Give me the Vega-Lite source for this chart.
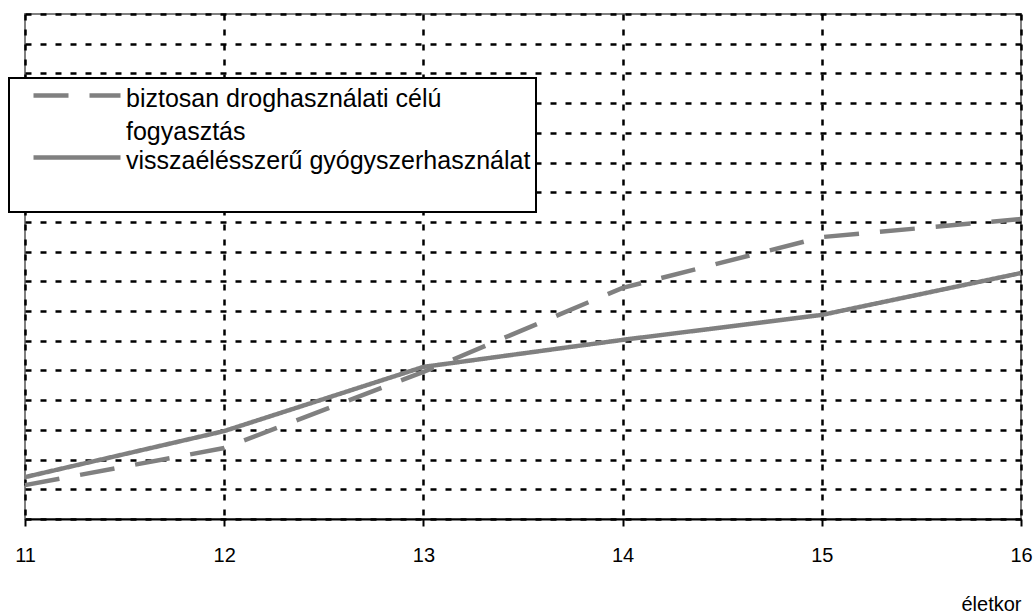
{
  "$schema": "https://vega.github.io/schema/vega-lite/v6.json",
  "width": 996,
  "height": 505,
  "autosize": {"type": "none"},
  "padding": {"left": 25, "top": 14, "right": 14, "bottom": 97},
  "background": "white",
  "config": {
    "view": {"stroke": "#808080", "strokeWidth": 2},
    "font": "Liberation Sans"
  },
  "data": {
    "values": [
      {"age": 11, "value": 1.14, "series": "biztosan droghasználati célú fogyasztás"},
      {"age": 12, "value": 2.39, "series": "biztosan droghasználati célú fogyasztás"},
      {"age": 13, "value": 4.95, "series": "biztosan droghasználati célú fogyasztás"},
      {"age": 14, "value": 7.78, "series": "biztosan droghasználati célú fogyasztás"},
      {"age": 15, "value": 9.49, "series": "biztosan droghasználati célú fogyasztás"},
      {"age": 16, "value": 10.1, "series": "biztosan droghasználati célú fogyasztás"},
      {"age": 11, "value": 1.41, "series": "visszaélésszerű gyógyszerhasználat"},
      {"age": 12, "value": 2.96, "series": "visszaélésszerű gyógyszerhasználat"},
      {"age": 13, "value": 5.12, "series": "visszaélésszerű gyógyszerhasználat"},
      {"age": 14, "value": 6.03, "series": "visszaélésszerű gyógyszerhasználat"},
      {"age": 15, "value": 6.87, "series": "visszaélésszerű gyógyszerhasználat"},
      {"age": 16, "value": 8.28, "series": "visszaélésszerű gyógyszerhasználat"}
    ]
  },
  "mark": {"type": "line", "color": "#808080", "strokeWidth": 4.5, "strokeCap": "butt"},
  "encoding": {
    "x": {
      "field": "age", "type": "quantitative",
      "scale": {"domain": [11, 16], "nice": false, "zero": false},
      "axis": {
        "values": [11, 12, 13, 14, 15, 16],
        "format": "d",
        "title": "életkor",
        "titleAnchor": "end", "titleAlign": "right", "titleBaseline": "alphabetic",
        "titleY": 91, "titleFontSize": 20, "titleFontWeight": "normal", "titleColor": "black",
        "labelFontSize": 20, "labelColor": "black", "labelPadding": 19,
        "labelFlush": false, "labelOverlap": false,
        "tickSize": 7, "tickColor": "black", "tickWidth": 2,
        "domainColor": "black", "domainWidth": 2,
        "grid": true, "gridColor": "black", "gridDash": [6, 9], "gridWidth": 2.5, "gridOpacity": 1
      }
    },
    "y": {
      "field": "value", "type": "quantitative",
      "scale": {"domain": [0, 17], "nice": false},
      "axis": {
        "values": [0, 1, 2, 3, 4, 5, 6, 7, 8, 9, 10, 11, 12, 13, 14, 15, 16, 17],
        "title": null, "labels": false, "ticks": false, "domain": false,
        "grid": true, "gridColor": "black", "gridDash": [6, 9], "gridWidth": 2.5, "gridOpacity": 1
      }
    },
    "strokeDash": {
      "field": "series", "type": "nominal",
      "scale": {
        "domain": ["biztosan droghasználati célú fogyasztás", "visszaélésszerű gyógyszerhasználat"],
        "range": [[35, 21], [1, 0]]
      },
      "legend": {
        "title": null,
        "orient": "none",
        "legendX": -16,
        "legendY": 64,
        "direction": "vertical",
        "fillColor": "white",
        "strokeColor": "black",
        "padding": 5,
        "symbolType": "M0.7,0H9.4",
        "symbolSize": 400,
        "symbolStrokeWidth": 4.5,
        "symbolStrokeColor": "#808080",
        "labelFontSize": 25,
        "labelColor": "black",
        "labelLimit": 700,
        "labelOffset": 87,
        "labelBaseline": "alphabetic",
        "rowPadding": 0,
        "labelExpr": "datum.label == 'biztosan droghasználati célú fogyasztás' ? ['biztosan droghasználati célú', 'fogyasztás'] : [datum.label, '']",
        "encode": {
          "legend": {"update": {"strokeWidth": {"value": 2}}},
          "labels": {"update": {"dy": {"value": 11}, "lineHeight": {"value": 33}}}
        }
      }
    }
  }
}
